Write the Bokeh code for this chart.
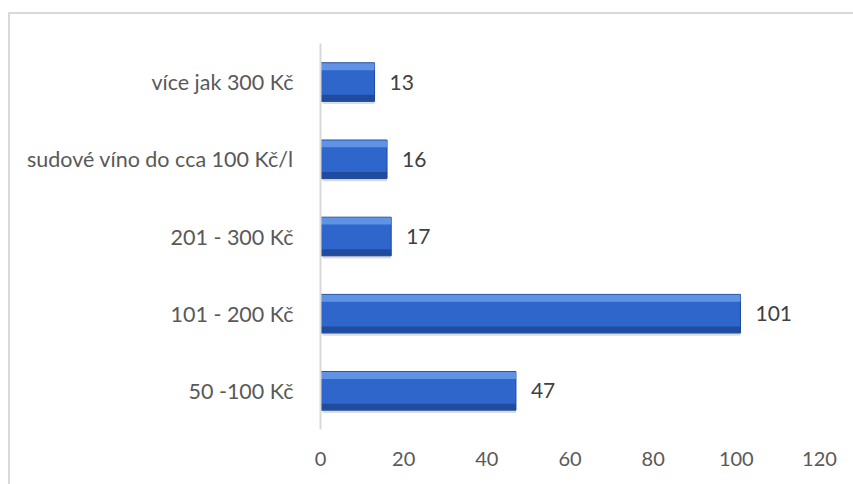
from bokeh.plotting import figure
from bokeh.models import ColumnDataSource, FixedTicker, LabelSet
from bokeh.core.properties import value
from bokeh.transform import dodge
from bokeh.embed import file_html
from bokeh.resources import INLINE

categories = ["50 -100 Kč", "101 - 200 Kč", "201 - 300 Kč", "sudové víno do cca 100 Kč/l", "více jak 300 Kč"]
values = [47, 101, 17, 16, 13]
x_ticks = [0, 20, 40, 60, 80, 100, 120]

src = ColumnDataSource(data=dict(cat=categories, val=values, lab=[str(v) for v in values]))

FONT = "Lato"
p = figure(y_range=categories, x_range=(0, 120), output_backend="svg", toolbar_location=None,
           frame_width=499, frame_height=386, min_border_left=310, min_border_right=34,
           min_border_top=29, min_border_bottom=55, background_fill_color="white",
           border_fill_color="white", outline_line_color=None)
p.margin = (12, 0, 0, 8)
p.styles = {"border-top": "2px solid #d9d9d9", "border-left": "2px solid #d9d9d9"}

# shadow
p.hbar(y=dodge("cat", -0.035, range=p.y_range), right="val", left=0.5, height=0.5, source=src,
       fill_color="#8a8a8a", fill_alpha=0.3, line_color=None)
# main bar
p.hbar(y="cat", right="val", left=0, height=0.5, source=src,
       fill_color="#2f66cc", line_color="#1f4a96", line_width=1)
# top highlight
p.hbar(y=dodge("cat", 0.2, range=p.y_range), right="val", left=0, height=0.09, source=src,
       fill_color="#6a9be8", fill_alpha=0.85, line_color=None)
# bottom shade
p.hbar(y=dodge("cat", -0.205, range=p.y_range), right="val", left=0, height=0.08, source=src,
       fill_color="#1d4796", fill_alpha=0.85, line_color=None)

labels = LabelSet(x="val", y="cat", text="lab", source=src, x_offset=15, text_baseline="middle",
                  text_font=value(FONT), text_font_size="21px", text_color="#404040")
p.add_layout(labels)

p.xgrid.grid_line_color = None
p.ygrid.grid_line_color = None

p.xaxis.ticker = FixedTicker(ticks=x_ticks)
p.xaxis.axis_line_color = None
p.xaxis.major_tick_line_color = None
p.xaxis.minor_tick_line_color = None
p.xaxis.major_label_standoff = 16
p.xaxis.major_label_text_font = FONT
p.xaxis.major_label_text_font_size = "20px"
p.xaxis.major_label_text_color = "#595959"

p.yaxis.axis_line_color = "#d9d9d9"
p.yaxis.axis_line_width = 2
p.yaxis.major_tick_line_color = None
p.yaxis.minor_tick_line_color = None
p.yaxis.major_label_standoff = 21
p.yaxis.major_label_text_font = FONT
p.yaxis.major_label_text_font_size = "21.5px"
p.yaxis.major_label_text_color = "#595959"

open("out.html", "w").write(file_html(p, INLINE))
